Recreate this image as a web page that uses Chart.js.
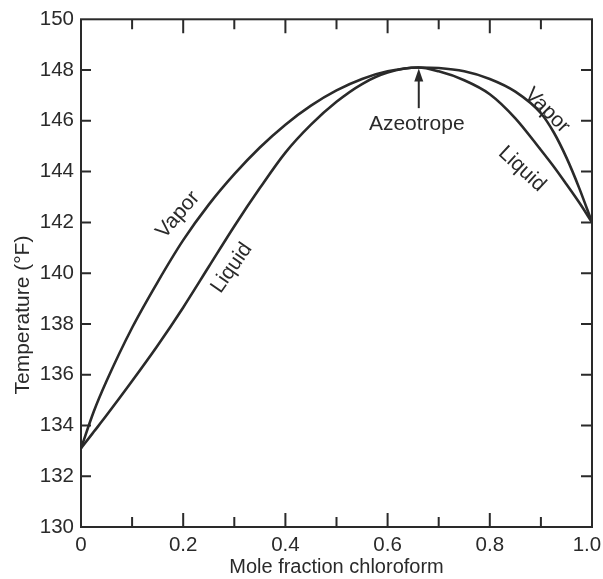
<!DOCTYPE html>
<html>
<head>
<meta charset="utf-8">
<script src="https://cdn.jsdelivr.net/npm/chart.js@4"></script>
<style>
	html, body { margin: 0; padding: 0; background: #fff; }
	#wrap { width: 603px; height: 579px; }
</style>
</head>
<body>
<div id="wrap"><canvas id="azeo-chart"></canvas></div>
<script>
const moleFraction = [0, 0.025, 0.05, 0.1, 0.15, 0.2, 0.25, 0.3, 0.35, 0.4, 0.45, 0.5, 0.55, 0.6, 0.66, 0.7, 0.75, 0.8, 0.85, 0.9, 0.925, 0.95, 0.975, 1.0];
const vaporTemp = [133.1, 134.55, 135.75, 137.85, 139.65, 141.3, 142.7, 143.9, 144.95, 145.85, 146.6, 147.2, 147.65, 147.95, 148.1, 148.08, 147.95, 147.65, 147.15, 146.3, 145.55, 144.55, 143.35, 142];
const liquidTemp = [133.1, 133.75, 134.4, 135.75, 137.15, 138.65, 140.25, 141.85, 143.35, 144.75, 145.85, 146.75, 147.45, 147.9, 148.1, 147.95, 147.6, 147.05, 146.1, 144.85, 144.2, 143.5, 142.78, 142];
const xMajorTicks = [0, 0.2, 0.4, 0.6, 0.8, 1.0];
const xMinorTicks = [0.1, 0.3, 0.5, 0.7, 0.9];
const yTicks = [132, 134, 136, 138, 140, 142, 144, 146, 148];

// curve labels, placed in data coords
const curveLabels = [
	{ text: 'Vapor', x: 0.19, y: 142.3, angle: -49 },
	{ text: 'Liquid', x: 0.295, y: 140.2, angle: -55 },
	{ text: 'Vapor', x: 0.912, y: 146.4, angle: 45 },
	{ text: 'Liquid', x: 0.863, y: 144.1, angle: 43 },
];
const azeotrope = { text: 'Azeotrope', x: 0.661, y: 148.1, textY: 145.85, tailY: 146.5 };
const yTitle = 'Temperature (°F)';

const ink = '#2a2a2a';
const fontFamily = '"Liberation Sans", Arial, Helvetica, sans-serif';

const toPoints = (ys) => moleFraction.map((x, i) => ({ x, y: ys[i] }));

const framePlugin = {
	id: 'frame',
	afterDatasetsDraw(chart) {
		const { ctx, chartArea: a, scales } = chart;
		const xs = scales.x;
		const ys = scales.y;
		ctx.save();
		ctx.strokeStyle = ink;
		ctx.lineWidth = 2;
		ctx.strokeRect(a.left, a.top, a.right - a.left, a.bottom - a.top);

		ctx.beginPath();
		xMajorTicks.forEach((v) => {
			const px = xs.getPixelForValue(v);
			ctx.moveTo(px, a.bottom); ctx.lineTo(px, a.bottom - 14);
			ctx.moveTo(px, a.top); ctx.lineTo(px, a.top + 14);
		});
		xMinorTicks.forEach((v) => {
			const px = xs.getPixelForValue(v);
			ctx.moveTo(px, a.bottom); ctx.lineTo(px, a.bottom - 10);
			ctx.moveTo(px, a.top); ctx.lineTo(px, a.top + 10);
		});
		yTicks.forEach((v) => {
			const py = ys.getPixelForValue(v);
			ctx.moveTo(a.left, py); ctx.lineTo(a.left + 10, py);
			ctx.moveTo(a.right, py); ctx.lineTo(a.right - 11, py);
		});
		ctx.stroke();

		ctx.fillStyle = ink;
		ctx.textAlign = 'center';
		ctx.textBaseline = 'middle';

		// y axis title, sits a bit below the middle like the original
		ctx.save();
		ctx.font = `21px ${fontFamily}`;
		ctx.translate(23, ys.getPixelForValue(138.35));
		ctx.rotate(-Math.PI / 2);
		ctx.fillText(yTitle, 0, 0);
		ctx.restore();

		// curve labels
		ctx.font = `21px ${fontFamily}`;
		curveLabels.forEach((l) => {
			ctx.save();
			ctx.translate(xs.getPixelForValue(l.x), ys.getPixelForValue(l.y));
			ctx.rotate(l.angle * Math.PI / 180);
			ctx.fillText(l.text, 0, 0);
			ctx.restore();
		});

		// azeotrope arrow
		const ax = xs.getPixelForValue(azeotrope.x);
		const tipY = ys.getPixelForValue(azeotrope.y) + 1;
		const tailY = ys.getPixelForValue(azeotrope.tailY);
		ctx.lineWidth = 2;
		ctx.beginPath();
		ctx.moveTo(ax, tailY);
		ctx.lineTo(ax, tipY + 8);
		ctx.stroke();
		ctx.beginPath();
		ctx.moveTo(ax, tipY);
		ctx.lineTo(ax - 4.5, tipY + 13);
		ctx.lineTo(ax + 4.5, tipY + 13);
		ctx.closePath();
		ctx.fill();
		ctx.fillText(azeotrope.text, ax - 2, ys.getPixelForValue(azeotrope.textY));
		ctx.restore();
	},
};

const tickFont = { family: fontFamily, size: 20.5 };
const titleFont = { family: fontFamily, size: 20 };

new Chart(document.getElementById('azeo-chart'), {
	type: 'line',
	data: {
		datasets: [
			{
				label: 'Vapor',
				data: toPoints(vaporTemp),
				borderColor: ink,
				borderWidth: 2.6,
				pointRadius: 0,
				cubicInterpolationMode: 'monotone',
				fill: false,
			},
			{
				label: 'Liquid',
				data: toPoints(liquidTemp),
				borderColor: ink,
				borderWidth: 2.6,
				pointRadius: 0,
				cubicInterpolationMode: 'monotone',
				fill: false,
			},
		],
	},
	options: {
		responsive: true,
		maintainAspectRatio: false,
		animation: false,
		layout: { padding: { top: 19, right: 11, left: 0, bottom: 0 } },
		plugins: {
			legend: { display: false },
			tooltip: { enabled: false },
		},
		scales: {
			x: {
				type: 'linear',
				min: 0,
				max: 1,
				grid: { display: false, drawTicks: false },
				border: { display: false },
				ticks: {
					stepSize: 0.2,
					padding: 6,
					color: ink,
					font: tickFont,
					maxRotation: 0,
					// en space after 1.0 nudges it left so it stays inside the canvas
					callback: (v) => {
						if (v === 0) return '0';
						if (v === 1) return '1.0\u2002';
						return Number(v).toFixed(1);
					},
				},
				title: {
					display: true,
					text: 'Mole fraction chloroform',
					color: ink,
					font: titleFont,
					padding: { top: 0, bottom: 0 },
				},
				afterFit: (scale) => {
					scale.height = 52;
					scale.paddingLeft = 0;
					scale.paddingRight = 0;
				},
			},
			y: {
				min: 130,
				max: 150,
				grid: { display: false, drawTicks: false },
				border: { display: false },
				ticks: {
					stepSize: 2,
					padding: 7,
					color: ink,
					font: tickFont,
				},
				title: { display: false },
				afterFit: (scale) => { scale.width = 81; },
			},
		},
	},
	plugins: [framePlugin],
});
</script>
</body>
</html>
